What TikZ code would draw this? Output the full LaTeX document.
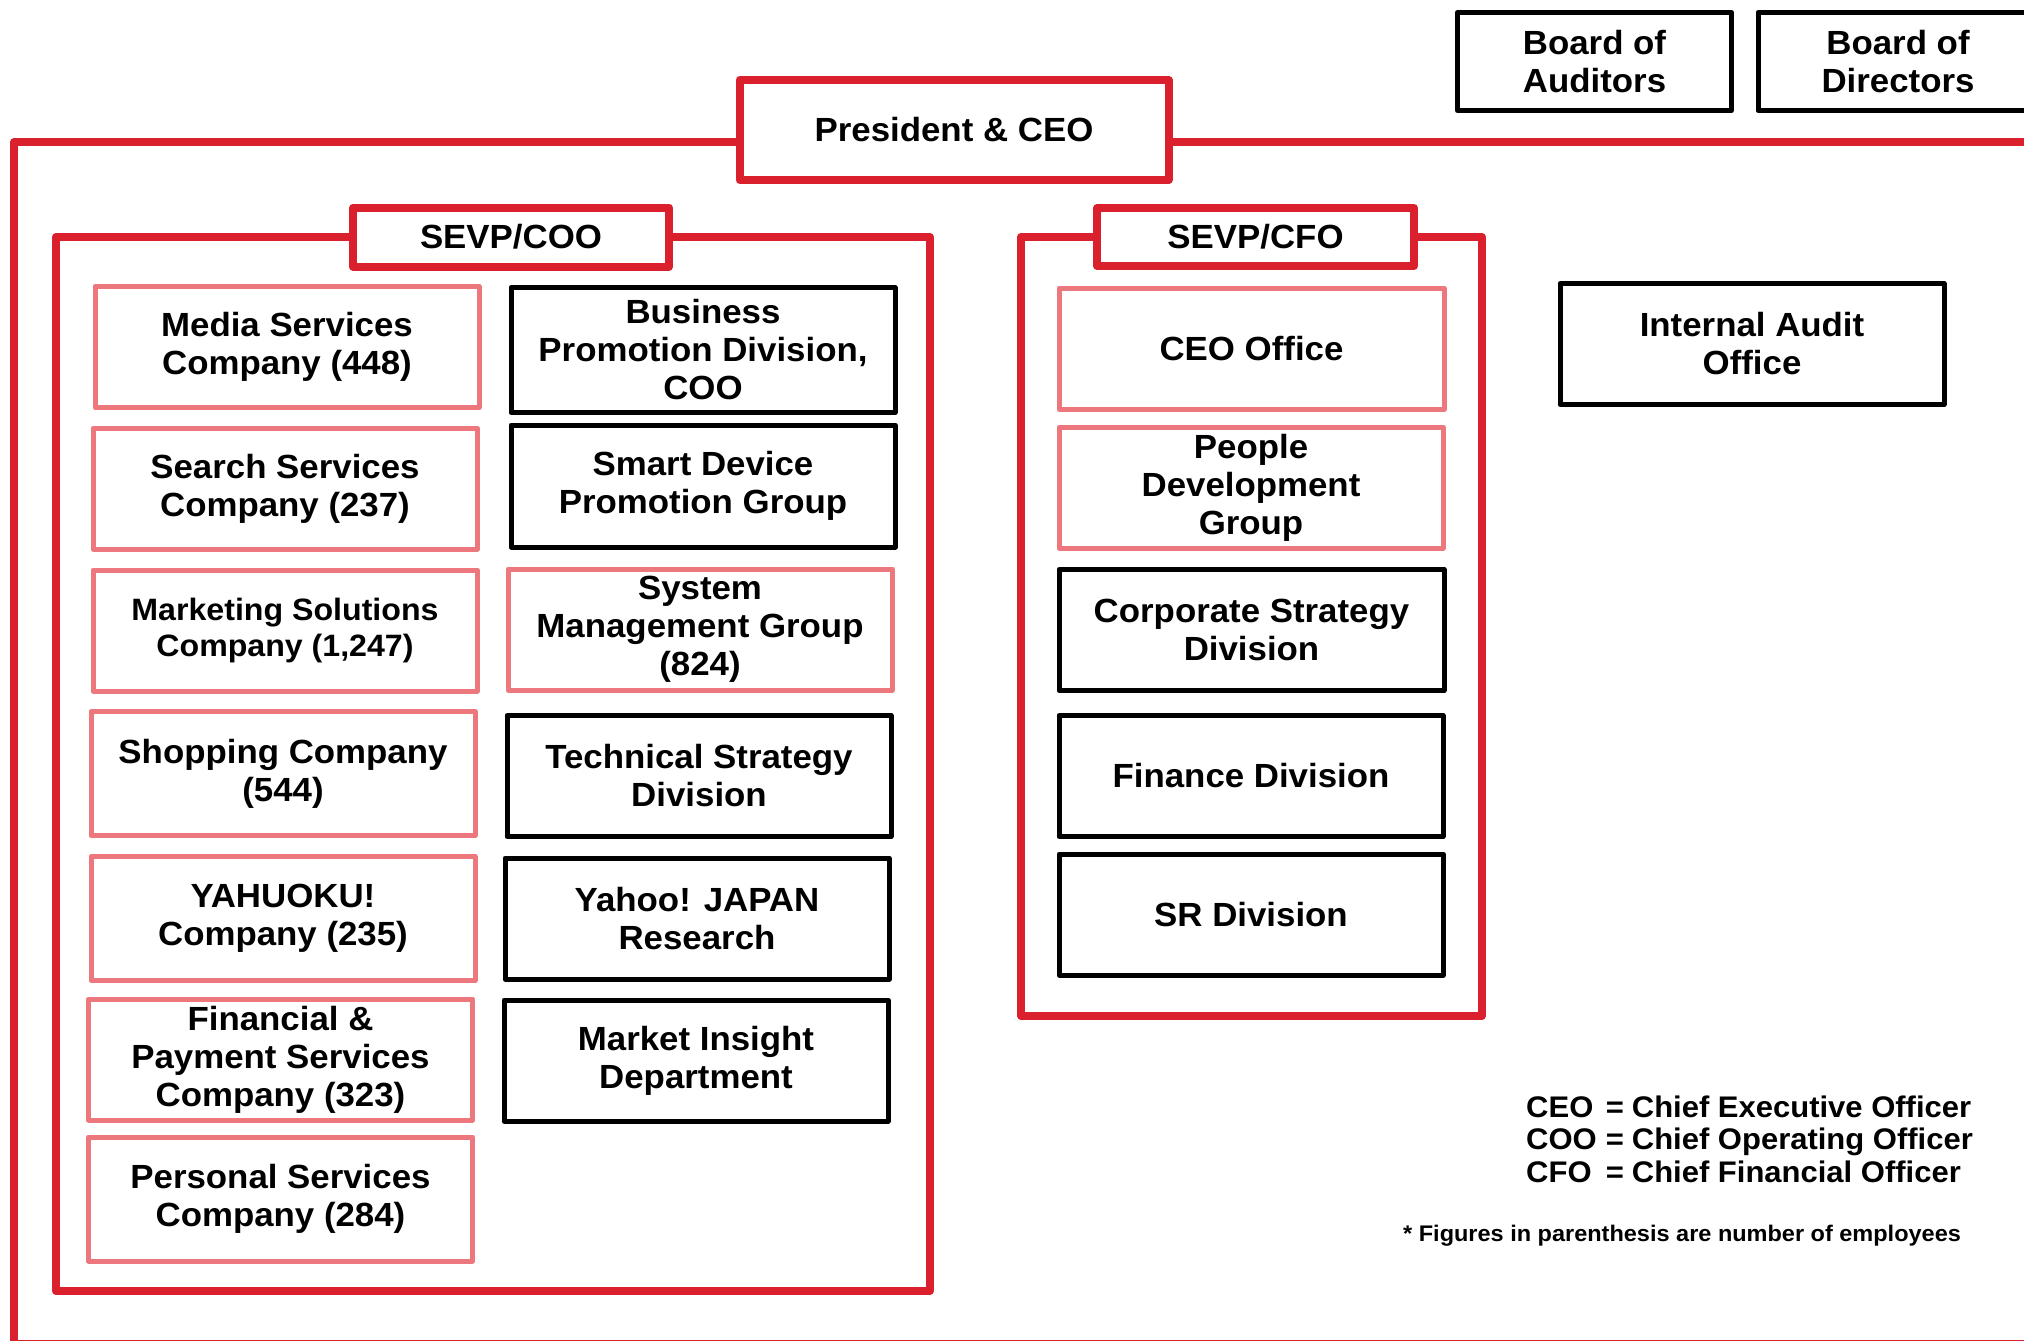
\documentclass[tikz,border=0pt]{standalone}
\usepackage{fontspec}
\setmainfont{Liberation Sans}[FakeStretch=1.04]
\definecolor{orgred}{RGB}{218,32,44}
\definecolor{orgpink}{RGB}{236,120,126}
\newcommand\orgboxfont{\fontsize{33.5}{38}\selectfont\bfseries}
\newcommand\orgsmallfont{\fontsize{30.9}{36}\selectfont\bfseries}
\newcommand\orglegendfont{\fontsize{29.8}{32.5}\selectfont\bfseries}
\newcommand\orgnotefont{\fontsize{22.6}{26}\selectfont\bfseries}
\begin{document}
\begin{tikzpicture}[x=1pt,y=-1pt,
  redline/.style={draw=orgred, line width=8pt, line join=round},
  box/.style={rectangle, line width=5pt, line join=round, align=center,
    inner sep=0pt, font=\orgboxfont, text=black,
    minimum width=384pt, minimum height=121pt},
  unitbox/.style={box, draw=orgpink},
  deptbox/.style={box, draw=black},
  headbox/.style={box, draw=orgred, line width=8pt, fill=white}]
\useasboundingbox (0,0) rectangle (2024,1341);

% board level
\node[deptbox, minimum width=274pt, minimum height=98pt] (auditors) at (1594.5,61.5) {Board of\\Auditors};
\node[deptbox, minimum width=280pt, minimum height=98pt] (directors) at (1898,61.5) {Board of\\Directors};

% president and the company-wide frame
\node[headbox, minimum width=429pt, minimum height=100pt] (pres) at (954,130) {President \& CEO};
\coordinate (tl) at (14,142);
\coordinate (bl) at (14,1343.5);
\coordinate (br) at (2045,1343.5);
\coordinate (tr) at (2045,142);
\draw[redline] (pres.west |- tl) -- (tl) -- (bl) -- (br) -- (tr) -- (pres.east |- tr);

% SEVP/COO group
\node[headbox, minimum width=316pt, minimum height=59pt] (cooh) at (511,237) {SEVP/COO};
\coordinate (cootl) at (56,237);
\coordinate (coobl) at (56,1291);
\coordinate (coobr) at (930,1291);
\coordinate (cootr) at (930,237);
\draw[redline] (cooh.west) -- (cootl) -- (coobl) -- (coobr) -- (cootr) -- (cooh.east);

\node[unitbox] (media) at (287,347) {Media Services\\Company (448)};
\node[unitbox] (search) at (285,488.5) {Search Services\\Company (237)};
\node[unitbox, font=\orgsmallfont] (marketing) at (285,630.5) {Marketing Solutions\\Company (1,247)};
\node[unitbox, minimum height=124pt] (shopping) at (283,773.5) {Shopping Company\\(544)};
\node[unitbox, minimum height=124pt] (yahuoku) at (283,918.5) {YAHUOKU!\\Company (235)};
\node[unitbox] (financial) at (280.5,1059.5) {Financial \&\\Payment Services\\Company (323)};
\node[unitbox, minimum height=124pt] (personal) at (280.5,1199) {Personal Services\\Company (284)};

\node[deptbox, minimum height=125pt] (business) at (703,350) {Business\\Promotion Division,\\COO};
\node[deptbox, minimum height=122pt] (smart) at (703,486) {Smart Device\\Promotion Group};
\node[unitbox] (system) at (700,629.5) {System\\Management Group\\(824)};
\node[deptbox] (technical) at (699,776) {Technical Strategy\\Division};
\node[deptbox] (research) at (697,918.5) {Yahoo! JAPAN\\Research};
\node[deptbox] (insight) at (696,1060.5) {Market Insight\\Department};

% SEVP/CFO group
\node[headbox, minimum width=317pt, minimum height=58pt] (cfoh) at (1255.5,237) {SEVP/CFO};
\coordinate (cfotl) at (1021,237);
\coordinate (cfobl) at (1021,1016);
\coordinate (cfobr) at (1482,1016);
\coordinate (cfotr) at (1482,237);
\draw[redline] (cfoh.west) -- (cfotl) -- (cfobl) -- (cfobr) -- (cfotr) -- (cfoh.east);

\node[unitbox, minimum width=385pt] (ceooffice) at (1251.5,348.5) {CEO Office};
\node[unitbox] (people) at (1251,487.5) {People\\Development\\Group};
\node[deptbox, minimum width=385pt] (corporate) at (1251.5,630) {Corporate Strategy\\Division};
\node[deptbox] (finance) at (1251,776) {Finance Division};
\node[deptbox] (sr) at (1251,914.5) {SR Division};

% staff office
\node[deptbox, minimum height=121pt] (audit) at (1752,344) {Internal Audit\\Office};

% abbreviations and note
\node[anchor=base west, inner sep=0pt, font=\orglegendfont] (legend) at (1526,1117)
  {\begin{tabular}[t]{@{}l@{\hspace{9pt}=\hspace{8pt}}l@{}}
   CEO & Chief Executive Officer\\
   COO & Chief Operating Officer\\
   CFO & Chief Financial Officer
   \end{tabular}};
\node[anchor=base west, inner sep=0pt, font=\orgnotefont] (note) at (1403,1241)
  {* Figures in parenthesis are number of employees};
\end{tikzpicture}
\end{document}
